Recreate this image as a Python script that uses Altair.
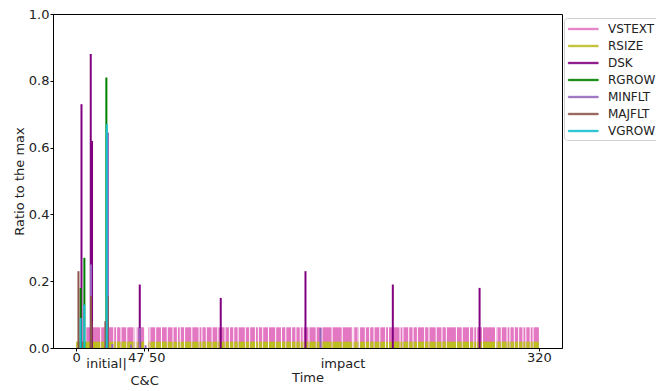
import altair as alt
import pandas as pd

# ---- data ----
series = ["VSTEXT", "RSIZE", "DSK", "RGROW", "MINFLT", "MAJFLT", "VGROW"]
colors = ["#e377c2", "#bcbd22", "#800080", "#008000", "#9467bd", "#8c564b", "#17becf"]

vstext_level = 0.062
vstext_span = [7, 320]
rsize_level = 0.019
rsize_span = [0, 320]
gap_times = [17, 20, 26, 28, 31, 35, 40, 41, 42, 51, 55, 59, 63, 67, 70, 72, 75, 80,
             85, 87, 90, 94, 98, 103, 106, 109, 112, 117, 120, 124, 126, 129, 133, 138,
             142, 145, 149, 152, 155, 157, 161, 166, 170, 177, 184, 191, 192, 195, 196,
             200, 203, 206, 210, 214, 216, 219, 224, 226, 230, 233, 236, 241, 244, 249,
             253, 256, 263, 267, 272, 275, 277, 281, 290, 291, 294, 298, 300, 303, 306,
             309, 311, 314, 316]
wide_gap = [47, 50]

spike_series = ["DSK", "DSK", "DSK", "DSK", "DSK", "DSK", "DSK", "DSK", "DSK",
                "RGROW", "RGROW", "RGROW",
                "MINFLT", "MINFLT", "MINFLT", "MINFLT", "MINFLT", "MINFLT", "MINFLT",
                "MAJFLT", "MAJFLT", "MAJFLT", "MAJFLT", "MAJFLT",
                "VGROW", "VGROW", "VGROW"]
spike_times = [3.7, 10.1, 11.0, 44.0, 100.0, 158.6, 219.0, 279.0, 44.3,
               3.1, 5.7, 20.9,
               10.3, 22.0, 44.0, 169.0, 25.0, 38.0, 48.0,
               1.6, 10.3, 10.6, 21.9, 20.2,
               3.1, 5.7, 21.2]
spike_values = [0.73, 0.88, 0.62, 0.19, 0.15, 0.23, 0.19, 0.18, 0.02,
                0.18, 0.27, 0.81,
                0.25, 0.645, 0.06, 0.06, 0.012, 0.01, 0.008,
                0.23, 0.155, 0.08, 0.155, 0.08,
                0.09, 0.13, 0.67]

x_tick_values = [0, 47, 50, 320]
y_tick_values = [0.0, 0.2, 0.4, 0.6, 0.8, 1.0]
annot_text = ["initial", "|", "impact", "C&C"]
annot_time = [31.8, 33.6, 184.6, 47.4]
annot_align = ["right", "center", "center", "center"]
annot_row = [0, 0, 0, 1]

# ---- tables ----
def segments(name, level, span):
    cuts = [(g - 0.35, g + 0.35) for g in gap_times if span[0] < g < span[1]]
    cuts.append((wide_gap[0], wide_gap[1]))
    cuts.sort()
    rows, cur = [], span[0]
    for a, b in cuts:
        if a > cur:
            rows.append(dict(series=name, x=cur, x2=a, y=0.0, y2=level))
        cur = max(cur, b)
    rows.append(dict(series=name, x=cur, x2=span[1], y=0.0, y2=level))
    return rows

bands = pd.DataFrame(segments("VSTEXT", vstext_level, vstext_span)
                     + segments("RSIZE", rsize_level, rsize_span))
spikes = pd.DataFrame({"series": spike_series, "x": spike_times, "y": spike_values})
spikes["y0"] = 0.0
spikes["order"] = spikes["series"].map({s: i for i, s in enumerate(series)})
spikes = spikes.sort_values("order", kind="stable")
annots = pd.DataFrame({"text": annot_text, "x": annot_time,
                       "align": annot_align, "row": annot_row})

W, H = 509, 334
FONT = "DejaVu Sans"

xscale = alt.Scale(domain=[-16, 336], nice=False, zero=False)
yscale = alt.Scale(domain=[0, 1], nice=False)

xaxis = alt.Axis(values=x_tick_values, title="Time", grid=False, tickSize=3,
                 labelPadding=0, titlePadding=7,
                 labelAlign={"condition": [{"test": "datum.value == 47", "value": "right"},
                                           {"test": "datum.value == 50", "value": "left"}],
                             "value": "center"})
yaxis = alt.Axis(values=y_tick_values, format=".1f", title="Ratio to the max", grid=False,
                 tickSize=3, labelPadding=1, titlePadding=2)

legend = alt.Legend(title=None, orient="none", legendX=511, legendY=4,
                    padding=3, strokeColor="#d0d0d0", cornerRadius=3,
                    fillColor="white",
                    symbolType="M-0.9,-0.11L3.1,-0.11L3.1,0.11L-0.9,0.11Z",
                    symbolSize=225, symbolStrokeWidth=0.5,
                    labelOffset=25, rowPadding=3,
                    labelFontSize=12, labelFont=FONT, labelColor="#222")
cscale = alt.Scale(domain=series, range=colors)

band_layer = alt.Chart(bands).mark_rect(opacity=1).encode(
    x=alt.X("x:Q", scale=xscale, axis=xaxis),
    x2="x2:Q",
    y=alt.Y("y:Q", scale=yscale, axis=yaxis),
    y2="y2:Q",
    color=alt.Color("series:N", scale=cscale, legend=legend),
)

spike_layer = alt.Chart(spikes).mark_rule(strokeWidth=2).encode(
    x=alt.X("x:Q", scale=xscale, axis=xaxis),
    y=alt.Y("y:Q", scale=yscale, axis=yaxis),
    y2="y0:Q",
    color=alt.Color("series:N", scale=cscale, legend=legend),
)

def annot(align, row):
    return alt.Chart(annots).transform_filter(
        (alt.datum.align == align) & (alt.datum.row == row)
    ).mark_text(fontSize=13, font=FONT, color="#222", baseline="alphabetic",
                align=align, fontWeight="normal").encode(
        x=alt.X("x:Q", scale=xscale, axis=xaxis),
        y=alt.value(H + 20 if row == 0 else H + 37),
        text="text:N",
    )

chart = alt.layer(band_layer, spike_layer,
                  annot("right", 0), annot("center", 0), annot("center", 1)).properties(
    width=W, height=H,
    autosize=alt.AutoSizeParams(type="none"),
    padding={"left": 45, "top": 6, "right": 94, "bottom": 43},
).configure_view(stroke="black", strokeWidth=1).configure_axis(
    labelFont=FONT, titleFont=FONT, labelFontSize=13, titleFontSize=13,
    titleFontWeight="normal", labelColor="#222", titleColor="#222",
    domainColor="black", tickColor="black",
)

chart.save("out.html", embed_options={"renderer": "svg", "actions": False})
